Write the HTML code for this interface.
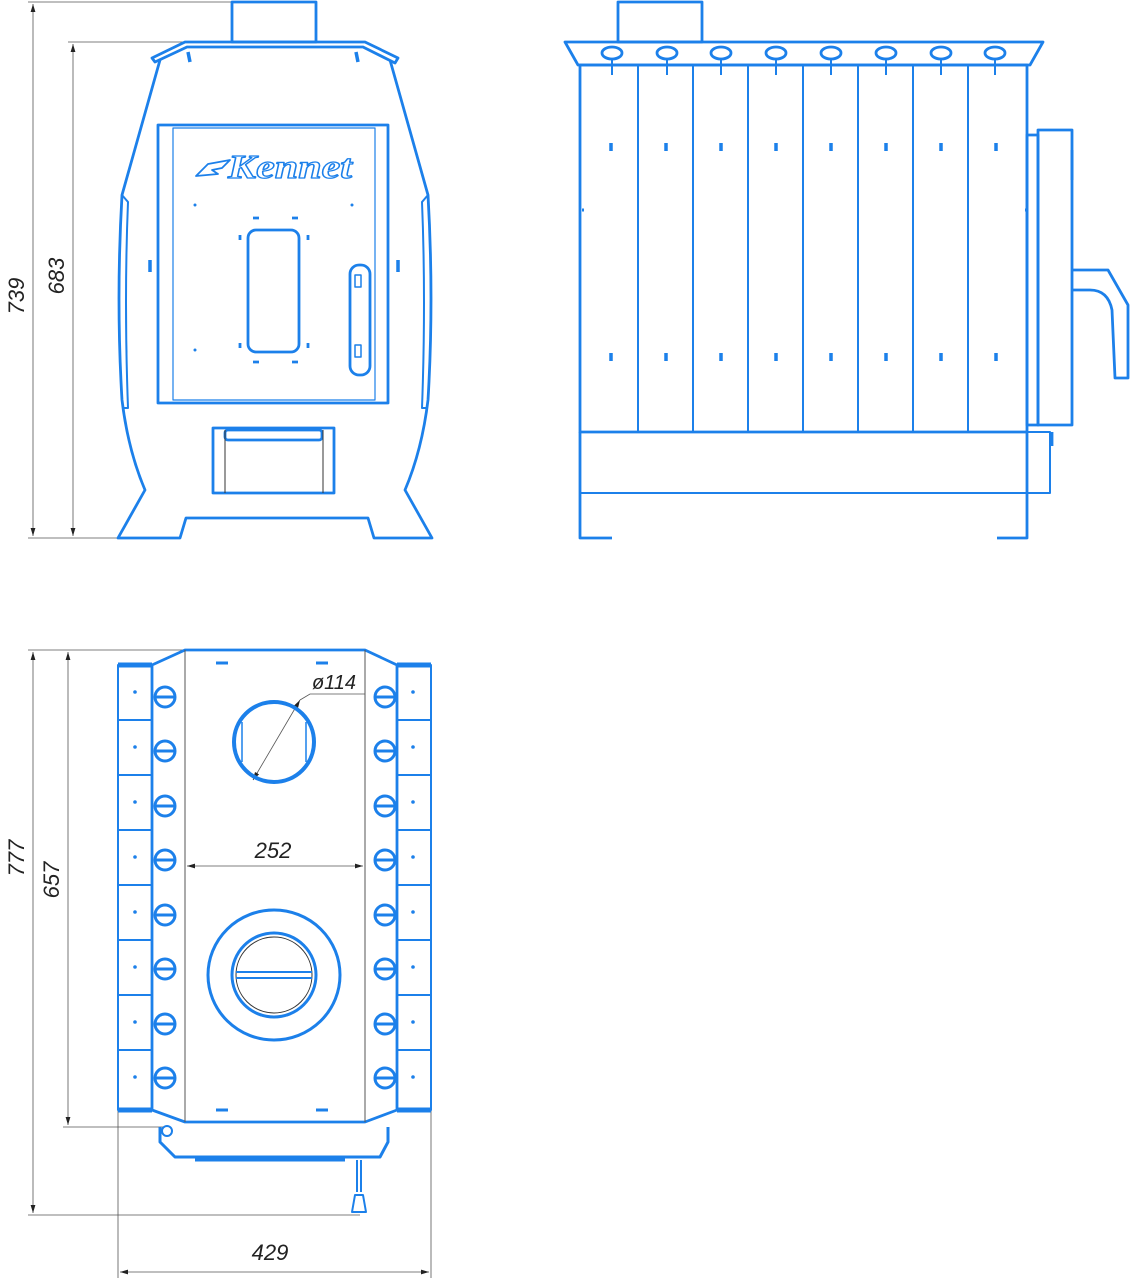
<!DOCTYPE html>
<html><head><meta charset="utf-8"><style>html,body{margin:0;padding:0;background:#fff}svg{display:block}</style></head>
<body>
<svg width="1132" height="1280" viewBox="0 0 1132 1280" xmlns="http://www.w3.org/2000/svg">
<defs>
<marker id="ar" viewBox="0 0 10 6" refX="10" refY="3" markerWidth="10" markerHeight="6" orient="auto-start-reverse"><path d="M0,0L10,3L0,6z" fill="#222"/></marker>
</defs>
<g fill="none" stroke="#555" stroke-width="0.8">
<line x1="28" y1="2" x2="232" y2="2"/><line x1="28" y1="538" x2="120" y2="538"/>
<line x1="68" y1="42" x2="185" y2="42"/>
<line x1="33" y1="4" x2="33" y2="536" marker-start="url(#ar)" marker-end="url(#ar)"/>
<line x1="73" y1="44" x2="73" y2="536" marker-start="url(#ar)" marker-end="url(#ar)"/>
<line x1="28" y1="650" x2="185" y2="650"/><line x1="63" y1="1127" x2="165" y2="1127"/>
<line x1="28" y1="1215" x2="360" y2="1215"/>
<line x1="118" y1="1110" x2="118" y2="1278"/><line x1="431" y1="1110" x2="431" y2="1278"/>
<line x1="33" y1="652" x2="33" y2="1213" marker-start="url(#ar)" marker-end="url(#ar)"/>
<line x1="68" y1="652" x2="68" y2="1125" marker-start="url(#ar)" marker-end="url(#ar)"/>
<line x1="120" y1="1272" x2="429" y2="1272" marker-start="url(#ar)" marker-end="url(#ar)"/>
<line x1="187" y1="866" x2="363" y2="866" marker-start="url(#ar)" marker-end="url(#ar)"/>
<line x1="253" y1="780" x2="300" y2="700" marker-start="url(#ar)" marker-end="url(#ar)"/>
<polyline points="300,700 310,694 365,694"/>
</g>
<g font-family="'Liberation Sans',sans-serif" font-style="italic" font-size="22" fill="#222">
<text transform="translate(24,296) rotate(-90)" text-anchor="middle">739</text>
<text transform="translate(64,276) rotate(-90)" text-anchor="middle">683</text>
<text transform="translate(24,858) rotate(-90)" text-anchor="middle">777</text>
<text transform="translate(59,880) rotate(-90)" text-anchor="middle">657</text>
<text x="270" y="1260" text-anchor="middle">429</text>
<text x="273" y="858" text-anchor="middle">252</text>
<text x="334" y="689" text-anchor="middle" font-size="20">ø114</text>
</g>

<g fill="none" stroke="#1c80ea" stroke-width="2.8" stroke-linejoin="round">
<!-- FRONT -->
<rect x="232" y="2" width="84" height="40"/>
<path d="M185,42 L365,42 L398,58 L395,63 L363,47 L187,47 L155,62 L152,58 Z"/>
<path d="M160,60 L122,195 Q116,300 122,400 Q128,450 145,490 L118,538 L180,538 L186,518 L368,518 L374,538 L432,538 L405,490 Q422,450 428,400 Q434,300 428,195 L390,60"/>
<path d="M122,195 L128,202 Q124,300 128,408 L122,408 M428,195 L422,202 Q426,300 422,408 L428,408" stroke-width="2"/>
<rect x="158" y="125" width="230" height="278"/>
<rect x="173" y="128" width="202" height="272" stroke-width="1.2"/>
<rect x="248" y="230" width="51" height="122" rx="8"/>
<rect x="350" y="265" width="20" height="110" rx="9"/>
<rect x="355" y="275" width="6" height="12" stroke-width="1.5"/>
<rect x="355" y="345" width="6" height="12" stroke-width="1.5"/>
<rect x="213" y="428" width="121" height="65"/>
<rect x="225" y="430" width="97" height="10" rx="3"/>
<line x1="225" y1="430" x2="225" y2="493" stroke="#333" stroke-width="1"/>
<line x1="323" y1="430" x2="323" y2="493" stroke="#333" stroke-width="1"/>
<path d="M188,52 l2,10 M356,52 l2,10 M150,260 v12 M398,260 v12" stroke-width="3.5"/>
<path d="M253,218 h6 M292,218 h6 M253,362 h6 M292,362 h6 M240,235 v5 M308,235 v5 M240,343 v5 M308,343 v5"/>
<text x="228" y="178" textLength="124" lengthAdjust="spacingAndGlyphs" font-family="'Liberation Serif',serif" font-style="italic" font-weight="bold" font-size="34" stroke-width="1.3" fill="#fff">Kennet</text>
<path d="M196,176 l12,-12 l22,-4 l-8,8 l-10,2 l6,4 z" stroke-width="1.8"/>

<!-- SIDE -->
<rect x="618" y="2" width="84" height="40"/>
<path d="M565,42 L1043,42 L1030,65 L578,65 Z"/>
<rect x="580" y="65" width="447" height="367"/>
<path d="M638,65 V432 M693,65 V432 M748,65 V432 M803,65 V432 M858,65 V432 M913,65 V432 M968,65 V432" stroke-width="2"/>
<rect x="580" y="432" width="447" height="61" stroke-width="2"/>
<path d="M580,432 V538 H612 M1027,432 V538 H997"/>
<g>
<ellipse cx="612" cy="53" rx="10" ry="6"/><ellipse cx="667" cy="53" rx="10" ry="6"/><ellipse cx="721" cy="53" rx="10" ry="6"/><ellipse cx="776" cy="53" rx="10" ry="6"/><ellipse cx="831" cy="53" rx="10" ry="6"/><ellipse cx="886" cy="53" rx="10" ry="6"/><ellipse cx="941" cy="53" rx="10" ry="6"/><ellipse cx="995" cy="53" rx="10" ry="6"/>
</g>
<path d="M612,59V75 M667,59V75 M721,59V75 M776,59V75 M831,59V75 M886,59V75 M941,59V75 M995,59V75" stroke-width="2"/>
<path d="M611,143v8 M666,143v8 M721,143v8 M776,143v8 M831,143v8 M886,143v8 M941,143v8 M996,143v8 M611,353v8 M666,353v8 M721,353v8 M776,353v8 M831,353v8 M886,353v8 M941,353v8 M996,353v8" stroke-width="3.5"/>
<path d="M582,210h2 M637,210h2 M692,210h2 M747,210h2 M802,210h2 M857,210h2 M912,210h2 M967,210h2 M1025,210h2" stroke-width="3"/>
<rect x="1027" y="135" width="11" height="290"/>
<rect x="1038" y="130" width="34" height="295"/>
<path d="M1072,150 v30" stroke-width="3"/>
<path d="M1072,270 H1088 L1108,270 L1128,305 L1128,378 L1115,378 L1112,310 Q1108,290 1090,290 H1072"/>
<rect x="1027" y="432" width="23" height="61" stroke-width="2"/>
<path d="M1052,432 v14"/>

<!-- TOP -->
<path d="M152,665 L185,650 L365,650 L397,665 L397,1110 L365,1122 L185,1122 L152,1110 Z"/>
<line x1="185" y1="650" x2="185" y2="1122" stroke="#555" stroke-width="1"/>
<line x1="365" y1="650" x2="365" y2="1122" stroke="#555" stroke-width="1"/>
<rect x="118" y="665" width="34" height="445" stroke-width="2"/>
<rect x="397" y="665" width="34" height="445" stroke-width="2"/>
<path d="M118,665 h34 M118,1110 h34 M397,665 h34 M397,1110 h34" stroke-width="5"/>
<path d="M118,720h34M118,775h34M118,830h34M118,885h34M118,940h34M118,995h34M118,1050h34 M397,720h34M397,775h34M397,830h34M397,885h34M397,940h34M397,995h34M397,1050h34" stroke-width="2"/>
<g stroke-width="3">
<circle cx="165" cy="697" r="10"/><circle cx="165" cy="751" r="10"/><circle cx="165" cy="806" r="10"/><circle cx="165" cy="860" r="10"/><circle cx="165" cy="915" r="10"/><circle cx="165" cy="969" r="10"/><circle cx="165" cy="1024" r="10"/><circle cx="165" cy="1078" r="10"/>
<circle cx="385" cy="697" r="10"/><circle cx="385" cy="751" r="10"/><circle cx="385" cy="806" r="10"/><circle cx="385" cy="860" r="10"/><circle cx="385" cy="915" r="10"/><circle cx="385" cy="969" r="10"/><circle cx="385" cy="1024" r="10"/><circle cx="385" cy="1078" r="10"/>
<path d="M155,697h20M155,751h20M155,806h20M155,860h20M155,915h20M155,969h20M155,1024h20M155,1078h20 M375,697h20M375,751h20M375,806h20M375,860h20M375,915h20M375,969h20M375,1024h20M375,1078h20"/>
<path d="M216,663h12M316,663h12M216,1110h12M316,1110h12"/>
</g>
<circle cx="274" cy="742" r="40" stroke-width="4"/>
<path d="M242,722 V762 M306,722 V762" stroke-width="1.5"/>
<ellipse cx="274" cy="975" rx="66" ry="65" stroke-width="3"/>
<circle cx="274" cy="975" r="42" stroke-width="3"/>
<circle cx="274" cy="975" r="38" stroke="#333" stroke-width="1"/>
<path d="M236,972 H312 M236,978 H312" stroke-width="2"/>
<path d="M160,1127 L160,1142 L175,1157 L380,1157 L388,1142 L388,1127" stroke-width="3"/>
<circle cx="167" cy="1131" r="5" stroke-width="2"/>
<path d="M195,1160 H345" stroke-width="3"/>
<path d="M357,1160 V1192 M361,1160 V1192 M352,1212 L355,1195 L363,1195 L366,1212 Z" stroke-width="2"/>
</g>
<g fill="#1c80ea">
<circle cx="135" cy="692" r="1.8"/><circle cx="135" cy="747" r="1.8"/><circle cx="135" cy="802" r="1.8"/><circle cx="135" cy="857" r="1.8"/><circle cx="135" cy="912" r="1.8"/><circle cx="135" cy="967" r="1.8"/><circle cx="135" cy="1022" r="1.8"/><circle cx="135" cy="1077" r="1.8"/>
<circle cx="413" cy="692" r="1.8"/><circle cx="413" cy="747" r="1.8"/><circle cx="413" cy="802" r="1.8"/><circle cx="413" cy="857" r="1.8"/><circle cx="413" cy="912" r="1.8"/><circle cx="413" cy="967" r="1.8"/><circle cx="413" cy="1022" r="1.8"/><circle cx="413" cy="1077" r="1.8"/>
<circle cx="195" cy="205" r="1.5"/><circle cx="352" cy="205" r="1.5"/><circle cx="195" cy="350" r="1.5"/>
</g>
</svg>
</body></html>
